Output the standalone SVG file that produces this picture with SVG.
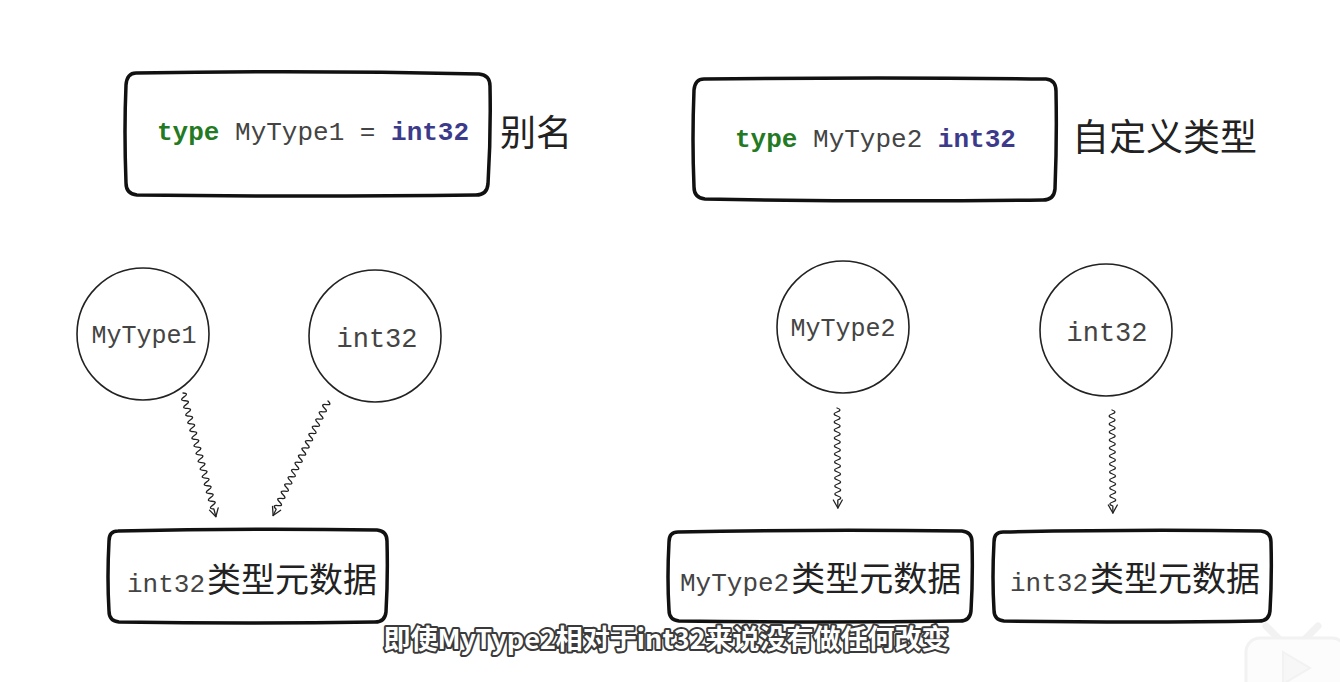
<svg xmlns="http://www.w3.org/2000/svg" width="1340" height="682" viewBox="0 0 1340 682">
<defs>
<style>
.box{fill:none;stroke:#111;stroke-width:3.5;stroke-linejoin:round;stroke-linecap:round}
.circ{fill:none;stroke:#222;stroke-width:1.6}
.wave{fill:none;stroke:#222;stroke-width:1.3;stroke-linecap:round;stroke-linejoin:round}
.mono{font-family:"Courier New","Liberation Mono","DejaVu Sans Mono",monospace;fill:#444}
.kw{fill:#237a23;font-weight:bold}
.ty{fill:#3c3a8a;font-weight:bold}
.cjk{font-family:"Noto Sans CJK SC","Noto Sans CJK JP",sans-serif;fill:#222}
.sub{font-family:"Noto Sans CJK SC","Noto Sans",sans-serif;font-size:27px;font-weight:bold;fill:#fff;stroke:#3a3a3a;stroke-width:4;paint-order:stroke;stroke-linejoin:round}
</style>
</defs>
<rect width="1340" height="682" fill="#fff"/>

<g id="alias-box">
<path class="box" d="M136,73 Q310,70 479,74 Q490,75 490,86 Q491,135 488,184 Q487,195 476,195 Q300,197 137,195 Q126,194 126,183 Q124,130 126,85 Q127,73 136,73 Z"/>
<text x="157" y="140" class="mono" font-size="26"><tspan class="kw">type</tspan> MyType1 = <tspan class="ty">int32</tspan></text>
</g>
<g id="alias-label"><text x="500" y="146" class="cjk" font-size="36">别名</text></g>

<g id="custom-box">
<path class="box" d="M704,79 Q880,77 1046,79 Q1056,80 1056,91 Q1057,140 1055,189 Q1054,200 1043,200 Q870,202 705,199 Q694,198 694,187 Q692,140 694,90 Q695,79 704,79 Z"/>
<text x="735" y="147" class="mono" font-size="26"><tspan class="kw">type</tspan> MyType2 <tspan class="ty">int32</tspan></text>
</g>
<g id="custom-label"><text x="1072" y="151" class="cjk" font-size="37">自定义类型</text></g>

<g id="c-mytype1">
<circle class="circ" cx="143" cy="334" r="66"/>
<text x="144" y="343" class="mono" font-size="25" text-anchor="middle">MyType1</text>
</g>
<g id="c-int32-a">
<circle class="circ" cx="375" cy="336" r="66"/>
<text x="377" y="347" class="mono" font-size="27" text-anchor="middle">int32</text>
</g>
<g id="c-mytype2">
<circle class="circ" cx="843" cy="327" r="66"/>
<text x="843" y="336" class="mono" font-size="25" text-anchor="middle">MyType2</text>
</g>
<g id="c-int32-b">
<circle class="circ" cx="1106" cy="330" r="66"/>
<text x="1107" y="341" class="mono" font-size="27" text-anchor="middle">int32</text>
</g>

<g id="connectors">
<g transform="translate(183,393) rotate(75.1)">
<path class="wave" d="M0,0 q2,-6 4,0 t4,0 t4,0 t4,0 t4,0 t4,0 t4,0 t4,0 t4,0 t4,0 t4,0 t4,0 t4,0 t4,0 t4,0 t4,0 t4,0 t4,0 t4,0 t4,0 t4,0 t4,0 t4,0 t4,0 t4,0 t4,0 t4,0 t4,0 t4,0 t4,0 L128,0"/>
<path class="wave" d="M120,-4.5 L128,0 L120,4.5"/>
</g>
<g transform="translate(328,401) rotate(115.6)">
<path class="wave" d="M0,0 q2,-6 4,0 t4,0 t4,0 t4,0 t4,0 t4,0 t4,0 t4,0 t4,0 t4,0 t4,0 t4,0 t4,0 t4,0 t4,0 t4,0 t4,0 t4,0 t4,0 t4,0 t4,0 t4,0 t4,0 t4,0 t4,0 t4,0 t4,0 t4,0 t4,0 t4,0 L127,0"/>
<path class="wave" d="M119,-4.5 L127,0 L119,4.5"/>
</g>
<g transform="translate(837,408) rotate(89.5)">
<path class="wave" d="M0,0 q2,-6 4,0 t4,0 t4,0 t4,0 t4,0 t4,0 t4,0 t4,0 t4,0 t4,0 t4,0 t4,0 t4,0 t4,0 t4,0 t4,0 t4,0 t4,0 t4,0 t4,0 t4,0 t4,0 t4,0 L100,0"/>
<path class="wave" d="M92,-4.5 L100,0 L92,4.5"/>
</g>
<g transform="translate(1112,410) rotate(89.5)">
<path class="wave" d="M0,0 q2,-6 4,0 t4,0 t4,0 t4,0 t4,0 t4,0 t4,0 t4,0 t4,0 t4,0 t4,0 t4,0 t4,0 t4,0 t4,0 t4,0 t4,0 t4,0 t4,0 t4,0 t4,0 t4,0 t4,0 t4,0 L103,0"/>
<path class="wave" d="M95,-4.5 L103,0 L95,4.5"/>
</g>
</g>

<g id="meta-int32-a">
<path class="box" d="M118,531 Q250,528 377,530 Q387,531 387,541 Q388,578 386,612 Q385,622 375,622 Q250,624 119,622 Q109,621 109,611 Q107,578 109,541 Q109,531 118,531 Z"/>
<text x="127" y="592" font-size="34"><tspan class="mono" font-size="26">int32</tspan><tspan class="cjk" dx="2">类型元数据</tspan></text>
</g>
<g id="meta-mytype2">
<path class="box" d="M678,532 Q820,529 962,531 Q972,532 972,542 Q973,578 971,611 Q970,621 960,621 Q820,623 679,621 Q669,620 669,610 Q667,578 669,542 Q669,532 678,532 Z"/>
<text x="680" y="591" font-size="34"><tspan class="mono" font-size="26">MyType2</tspan><tspan class="cjk" dx="2">类型元数据</tspan></text>
</g>
<g id="meta-int32-b">
<path class="box" d="M1003,532 Q1140,529 1261,531 Q1271,532 1271,542 Q1272,578 1270,611 Q1269,621 1259,621 Q1140,623 1004,621 Q994,620 994,610 Q992,578 994,542 Q994,532 1003,532 Z"/>
<text x="1010" y="591" font-size="34"><tspan class="mono" font-size="26">int32</tspan><tspan class="cjk" dx="2">类型元数据</tspan></text>
</g>

<g id="subtitle">
<text x="666" y="649" class="sub" text-anchor="middle">即使MyType2相对于int32来说没有做任何改变</text>
</g>

<g id="watermark" opacity="0.5">
<path d="M1266,626 L1280,640 M1318,626 L1304,640" stroke="#e6e6e6" stroke-width="7" stroke-linecap="round" fill="none"/>
<rect x="1246" y="638" width="100" height="60" rx="14" fill="#fafafa" stroke="#e6e6e6" stroke-width="3"/>
<path d="M1283,652 L1310,668 L1283,684 Z" fill="#f0f0f0" stroke="#e6e6e6" stroke-width="2"/>
</g>
</svg>
